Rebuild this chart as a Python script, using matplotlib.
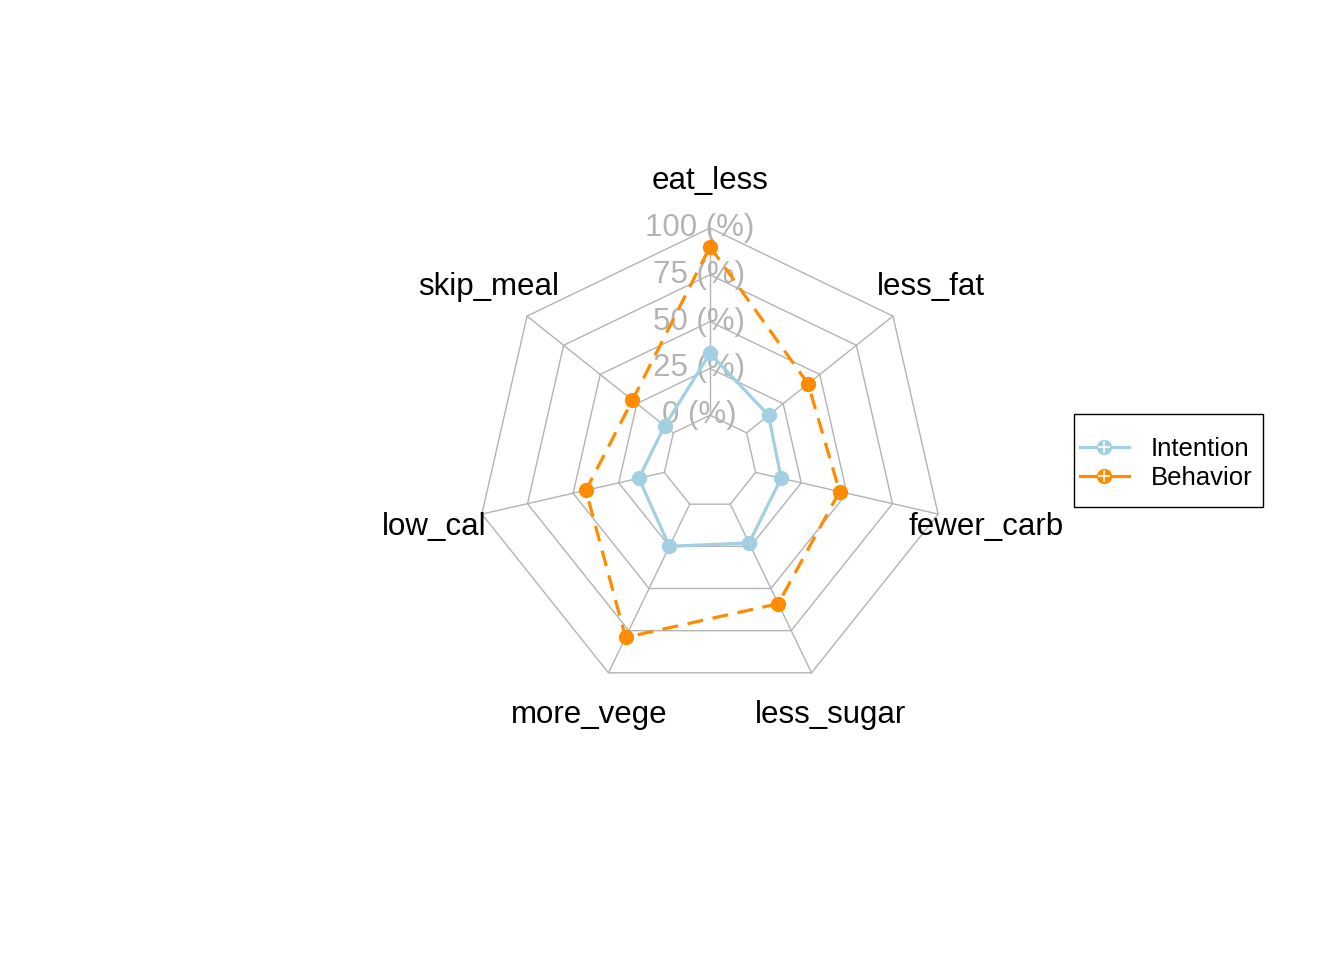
import numpy as np
import matplotlib
matplotlib.use("Agg")
import matplotlib.pyplot as plt
from matplotlib.lines import Line2D
from matplotlib.patches import Rectangle

categories = ["eat_less", "less_fat", "fewer_carb", "less_sugar", "more_vege", "low_cal", "skip_meal"]
intention = [33, 15, 14, 23, 25, 14, 6]
behavior = [90, 42, 46, 59, 79, 43, 28]
ring_values = [0, 25, 50, 75, 100]
ring_labels = ["0 (%)", "25 (%)", "50 (%)", "75 (%)", "100 (%)"]
series_names = ["Intention", "Behavior"]
series_colors = ["#A2D0E2", "#FF8C00"]

plt.rcParams['font.family'] = ['Liberation Sans', 'DejaVu Sans']

W, H = 1344, 960
fig = plt.figure(figsize=(W / 100, H / 100), dpi=100)
cx, cy, R = 710, 462, 234
half = 1.5
ax = fig.add_axes([(cx - half * R) / W, (H - cy - half * R) / H, 2 * half * R / W, 2 * half * R / H])
ax.set_xlim(-half, half)
ax.set_ylim(-half, half)
ax.set_aspect('equal')
ax.axis('off')

n = len(categories)
theta = np.arange(n) * 2 * np.pi / n
sx, sy = np.sin(theta), np.cos(theta)


def rad(v):
    return 0.2 + 0.8 * np.asarray(v, dtype=float) / 100.0


def closed(r):
    px = r * sx
    py = r * sy
    return np.append(px, px[0]), np.append(py, py[0])


grid_col = "#B3B3B3"
for v in ring_values:
    xs, ys = closed(np.full(n, rad(v)))
    ax.plot(xs, ys, color=grid_col, lw=1.0, zorder=1)
for i in range(n):
    ax.plot([rad(0) * sx[i], rad(100) * sx[i]], [rad(0) * sy[i], rad(100) * sy[i]],
            color=grid_col, lw=1.0, zorder=1)

for v, lab in zip(ring_values, ring_labels):
    ax.text(-0.045, rad(v) + 0.0, lab, ha='center', va='center', fontsize=22.5,
            color="#B3B3B3", zorder=2)

for i, c in enumerate(categories):
    rr = 1.21 if sy[i] > -0.5 else 1.19
    ax.text(rr * sx[i], rr * sy[i] - 0.008, c, ha='center', va='center', fontsize=22.5, color='black')

styles = ['-', (0, (5, 3))]
handles = []
for vals, col, ls, name in zip([intention, behavior], series_colors, styles, series_names):
    r = rad(vals)
    xs, ys = closed(r)
    ax.plot(xs, ys, color=col, lw=2.3, ls=ls, zorder=3)
    ax.plot(r * sx, r * sy, 'o', color=col, ms=10, zorder=4, lw=0)
    h1 = Line2D([], [], color=col, lw=2.3, ls='-', marker='o', ms=10)
    h2 = Line2D([], [], color='white', lw=0, marker='+', ms=8, mew=1.2)
    handles.append((h1, h2))

leg = fig.legend(handles, series_names, loc='center left',
                 bbox_to_anchor=(1080 / W, 1 - 463.5 / H), bbox_transform=fig.transFigure,
                 borderaxespad=0, borderpad=0, frameon=False, fontsize=18.5,
                 handlelength=1.9, labelspacing=0.2, handletextpad=0.85)
fig.patches.append(Rectangle((1074 / W, 1 - 507 / H), (1263 - 1074) / W, (507 - 414) / H,
                             transform=fig.transFigure, fill=False, edgecolor='black', lw=1.0))

fig.savefig("out.png", dpi=100, facecolor='white')
